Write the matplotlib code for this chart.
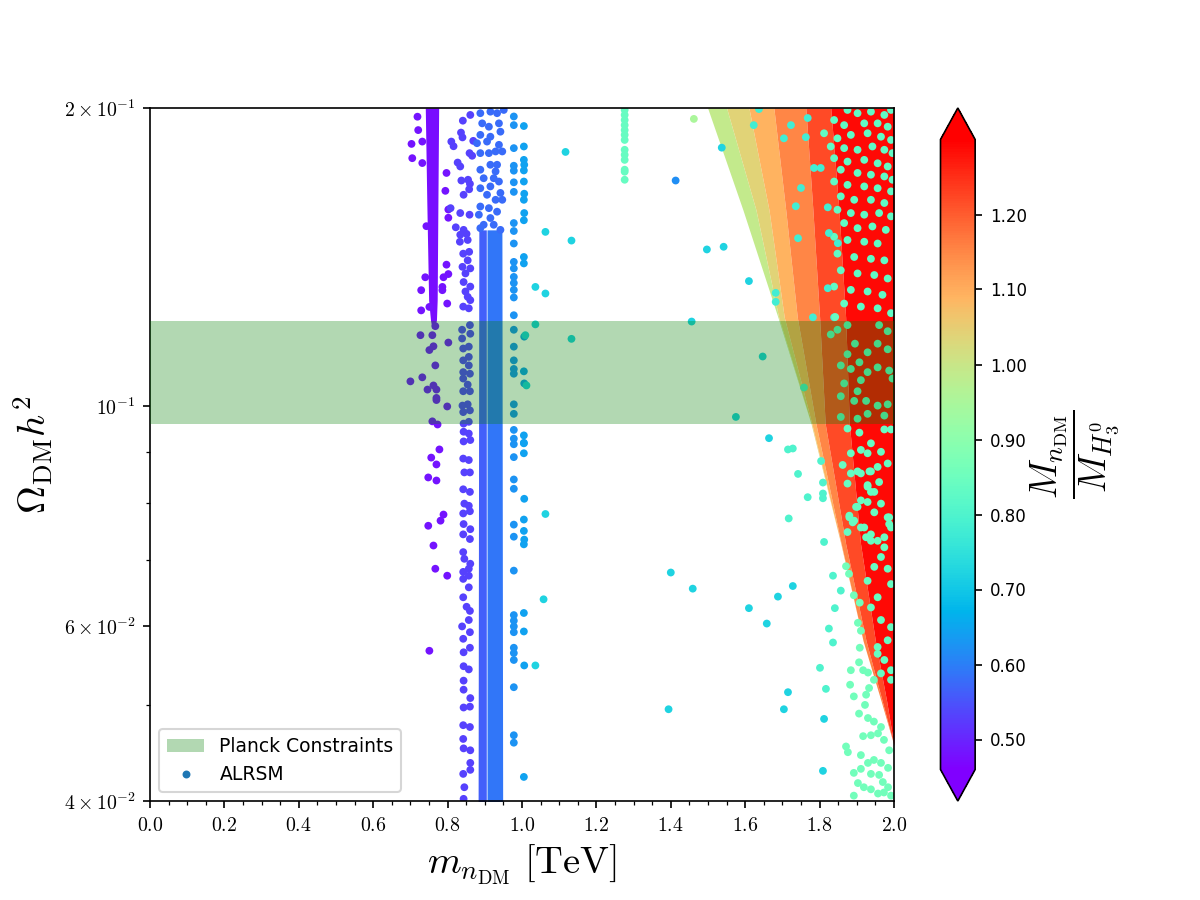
import numpy as np
import matplotlib
matplotlib.use("Agg")
import matplotlib.pyplot as plt
from matplotlib.colors import Normalize
from matplotlib.lines import Line2D
from matplotlib.ticker import FixedLocator, FixedFormatter, MultipleLocator, NullFormatter, FormatStrFormatter

plt.rcParams["mathtext.fontset"] = "cm"

# ---------------------------------------------------------------------------
# data (x = m_nDM in TeV, y = Omega h^2, c = M_nDM / M_H3)
# ---------------------------------------------------------------------------
C_MIN, C_MAX = 0.46, 1.30
PLANCK_LO, PLANCK_HI = 0.0961, 0.1219

# purple stripe around 0.75 TeV
purple_core_y = [0.2, 0.1615, 0.128, 0.1222, 0.1199]
purple_core_xl = [0.740, 0.744, 0.749, 0.754, 0.758]
purple_core_xr = [0.776, 0.774, 0.772, 0.770, 0.764]
purple_core_c = 0.475

purple_x = [0.719, 0.721, 0.703, 0.705, 0.732, 0.732, 0.797, 0.794, 0.802, 0.802,
            0.743, 0.797, 0.789, 0.802, 0.740, 0.786, 0.786, 0.729, 0.799, 0.729,
            0.751, 0.767, 0.759, 0.727, 0.802, 0.762, 0.751, 0.767, 0.700, 0.732,
            0.746, 0.762, 0.770, 0.770, 0.770, 0.799, 0.759, 0.773, 0.778, 0.756,
            0.770, 0.748, 0.770, 0.789, 0.781, 0.748, 0.762, 0.767, 0.799, 0.751]
purple_y = [0.196, 0.190, 0.184, 0.178, 0.185, 0.176, 0.172, 0.165, 0.158, 0.155,
            0.152, 0.139, 0.135, 0.136, 0.135, 0.132, 0.131, 0.131, 0.127, 0.125,
            0.126, 0.1205, 0.118, 0.118, 0.116, 0.115, 0.114, 0.110, 0.106, 0.107,
            0.104, 0.105, 0.104, 0.102, 0.1015, 0.100, 0.0966, 0.0959, 0.0905, 0.0888,
            0.0874, 0.0848, 0.0842, 0.0778, 0.0767, 0.0758, 0.0724, 0.0686, 0.0675, 0.0567]
purple_c = 0.48

# second (violet-blue) column around 0.84-0.86 TeV
col2_x = [0.841, 0.861, 0.836, 0.840, 0.810, 0.816, 0.869, 0.859, 0.866, 0.827,
          0.834, 0.837, 0.855, 0.860, 0.843, 0.858, 0.808, 0.834, 0.859, 0.822,
          0.843, 0.834, 0.851, 0.833, 0.854, 0.842, 0.858, 0.854, 0.840, 0.861,
          0.848, 0.843, 0.861, 0.848, 0.854, 0.842, 0.861, 0.857, 0.839, 0.860,
          0.839, 0.861, 0.842, 0.857, 0.857, 0.842, 0.857, 0.842, 0.860, 0.842,
          0.854, 0.842, 0.860, 0.840, 0.854, 0.842, 0.860, 0.843, 0.857, 0.843,
          0.857, 0.843, 0.861, 0.842, 0.857, 0.845, 0.860, 0.842, 0.860, 0.845,
          0.857, 0.842, 0.860, 0.843, 0.861, 0.842, 0.860, 0.842, 0.845, 0.861,
          0.857, 0.842, 0.857, 0.842, 0.857, 0.842, 0.851, 0.860, 0.857, 0.839,
          0.860, 0.842, 0.860, 0.843, 0.857, 0.843, 0.843, 0.843, 0.861, 0.843,
          0.860, 0.842, 0.860, 0.842, 0.843, 0.861, 0.861, 0.842, 0.861, 0.845,
          0.843]
col2_y = [0.1942, 0.1968, 0.1889, 0.1868, 0.1850, 0.1830, 0.1853, 0.1801, 0.1790, 0.1762,
          0.1746, 0.1690, 0.1693, 0.1677, 0.1635, 0.1656, 0.1585, 0.1567, 0.1561, 0.1516,
          0.1507, 0.1490, 0.1493, 0.1466, 0.1472, 0.1426, 0.1432, 0.1404, 0.1383, 0.1378,
          0.1362, 0.1335, 0.1321, 0.1306, 0.1290, 0.1261, 0.1280, 0.1256, 0.1195, 0.1208,
          0.1171, 0.1184, 0.1144, 0.1149, 0.1122, 0.1113, 0.1100, 0.1083, 0.1079, 0.1067,
          0.1052, 0.1036, 0.1036, 0.1002, 0.1005, 0.0987, 0.0991, 0.0961, 0.0965, 0.0943,
          0.0939, 0.0922, 0.0925, 0.0886, 0.0883, 0.0858, 0.0858, 0.0825, 0.0820, 0.0798,
          0.0794, 0.0780, 0.0784, 0.0761, 0.0752, 0.0743, 0.0735, 0.0713, 0.0702, 0.0694,
          0.0686, 0.0681, 0.0675, 0.0670, 0.0657, 0.0642, 0.0628, 0.0622, 0.0609, 0.0600,
          0.0592, 0.0583, 0.0571, 0.0565, 0.0543, 0.0547, 0.0529, 0.0518, 0.0508, 0.0497,
          0.0498, 0.0477, 0.0475, 0.0462, 0.0452, 0.0450, 0.0437, 0.0426, 0.0430, 0.0413,
          0.0402]
col2_c = 0.53

# dense blue column 0.88-0.95 TeV (left and right halves)
blue_core_y = [0.1507, 0.0395]
blue_core_left_xl = [0.884, 0.882]
blue_core_left_xr = [0.904, 0.904]
blue_core_right_xl = [0.906, 0.906]
blue_core_right_xr = [0.946, 0.948]
blue_core_left_c = 0.565
blue_core_right_c = 0.59

blue_top_x = [0.888, 0.915, 0.933, 0.951, 0.893, 0.911, 0.938, 0.942, 0.888, 0.915,
              0.906, 0.938, 0.879, 0.888, 0.911, 0.929, 0.947, 0.915, 0.933, 0.888,
              0.929, 0.897, 0.924, 0.938, 0.888, 0.915, 0.942, 0.906, 0.929, 0.947,
              0.888, 0.911, 0.933, 0.884, 0.915, 0.897, 0.924, 0.888, 0.942]
blue_top_y = [0.1976, 0.1983, 0.1976, 0.1991, 0.1930, 0.1915, 0.1930, 0.1893, 0.1879, 0.1871,
              0.1850, 0.1836, 0.1843, 0.1801, 0.1801, 0.1808, 0.1808, 0.1753, 0.1753, 0.1733,
              0.1726, 0.1699, 0.1699, 0.1686, 0.1660, 0.1667, 0.1642, 0.1635, 0.1616, 0.1616,
              0.1591, 0.1585, 0.1572, 0.1561, 0.1549, 0.1525, 0.1525, 0.1513, 0.1507]
blue_top_c = 0.575

# sparse columns near 0.98 and 1.0 TeV
col98_x = [0.978] * 43
col98_y = [0.1961, 0.1922, 0.1822, 0.1749, 0.1729, 0.1683, 0.1646, 0.1531, 0.1503, 0.1460,
           0.1399, 0.1378, 0.1351, 0.1332, 0.1311, 0.1288, 0.1236, 0.1195, 0.1149, 0.1113,
           0.1091, 0.1079, 0.1005, 0.0983, 0.0947, 0.0928, 0.0916, 0.0889, 0.0844, 0.0826,
           0.0760, 0.0739, 0.0683, 0.0616, 0.0608, 0.0600, 0.0592, 0.0571, 0.0564, 0.0555,
           0.0521, 0.0466, 0.0458]
col98_c = 0.625

col100_x = [1.005, 1.005, 1.005, 1.006, 1.005, 1.005, 1.006, 1.005, 1.006, 1.005,
            1.005, 1.005, 1.006, 1.005, 1.006, 1.005, 1.005, 1.005, 1.005, 1.006,
            1.005, 1.005, 1.006, 1.005, 1.005, 1.005, 1.006, 1.005]
col100_y = [0.1918, 0.1829, 0.1773, 0.1753, 0.1730, 0.1686, 0.1639, 0.1616, 0.1567, 0.1541,
            0.1415, 0.1394, 0.1176, 0.1085, 0.1055, 0.0935, 0.0919, 0.0918, 0.0897, 0.0807,
            0.0769, 0.0749, 0.0734, 0.0726, 0.0619, 0.0593, 0.0548, 0.0423]
col100_c = 0.645

# isolated cyan points
cyan_x = [1.117, 1.063, 1.133, 1.036, 1.063, 1.036, 1.009, 1.133, 1.012, 1.063,
          1.058, 1.036, 1.400, 1.394, 1.459, 1.537, 1.497, 1.542, 1.610, 1.456,
          1.575, 1.647, 1.664, 1.610, 1.658, 1.688, 1.728, 1.715, 1.704, 1.812,
          1.809]
cyan_y = [0.1806, 0.150, 0.147, 0.132, 0.130, 0.121, 0.118, 0.117, 0.105, 0.0779,
          0.0639, 0.0548, 0.068, 0.0495, 0.0655, 0.1824, 0.1440, 0.1449, 0.1338, 0.1218,
          0.0976, 0.1123, 0.0929, 0.0626, 0.0604, 0.0643, 0.0659, 0.0515, 0.0495, 0.0484,
          0.0429]
cyan_c = 0.72

lone_blue_x = [1.413]
lone_blue_y = [0.169]
lone_blue_c = 0.62

lone_green_x = [1.462]
lone_green_y = [0.195]
lone_green_c = 0.95

# teal column at 1.28 TeV
col128_x = [1.276] * 13
col128_y = [0.1991, 0.1968, 0.1945, 0.1922, 0.1900, 0.1879, 0.1857, 0.1815, 0.1794, 0.1773,
            0.1733, 0.1725, 0.1693]
col128_c = 0.84

# the sloping fan at high mass: boundaries of colour stripes
fan_y = [0.2, 0.1578, 0.1230, 0.0961, 0.0727, 0.0580, 0.0505, 0.0455]
fan_edges = [
    [1.499, 1.594, 1.688, 1.777, 1.857, 1.917, 1.965, 2.0],
    [1.550, 1.629, 1.690, 1.777, 1.857, 1.917, 1.965, 2.0],
    [1.610, 1.664, 1.705, 1.779, 1.857, 1.917, 1.965, 2.0],
    [1.677, 1.709, 1.740, 1.790, 1.858, 1.917, 1.965, 2.0],
    [1.763, 1.782, 1.800, 1.815, 1.870, 1.925, 1.968, 2.0],
    [1.830, 1.852, 1.870, 1.880, 1.910, 1.950, 1.980, 2.0],
    [2.0, 2.0, 2.0, 2.0, 2.0, 2.0, 2.0, 2.0],
]
fan_c = [0.99, 1.04, 1.09, 1.15, 1.22, 1.29]

# teal points spread over the upper right corner
teal_top_x = [1.875, 1.902, 1.938, 1.974, 1.992, 1.839, 1.866, 1.920, 1.956, 1.983,
              1.812, 1.848, 1.884, 1.929, 1.965, 1.992, 1.830, 1.866, 1.902, 1.942,
              1.974, 1.996, 1.839, 1.875, 1.920, 1.956, 1.983, 1.857, 1.902, 1.938,
              1.974, 1.996, 1.839, 1.875, 1.920, 1.956, 1.992, 1.857, 1.893, 1.938,
              1.974, 1.848, 1.884, 1.920, 1.960, 1.992, 1.866, 1.902, 1.942, 1.978,
              1.839, 1.875, 1.920, 1.956, 1.848, 1.893, 1.938, 1.974, 1.857, 1.902,
              1.947, 1.983, 1.839, 1.884, 1.929, 1.969, 1.866, 1.911, 1.956, 1.992]
teal_top_y = [0.1991, 0.1976, 0.1983, 0.1968, 0.1991, 0.1945, 0.1922, 0.1930, 0.1930, 0.1915,
              0.1886, 0.1864, 0.1879, 0.1886, 0.1871, 0.1857, 0.1829, 0.1822, 0.1815, 0.1829,
              0.1815, 0.1801, 0.1780, 0.1766, 0.1773, 0.1759, 0.1746, 0.1733, 0.1720, 0.1713,
              0.1706, 0.1693, 0.1686, 0.1673, 0.1667, 0.1660, 0.1648, 0.1629, 0.1616, 0.1616,
              0.1604, 0.1579, 0.1567, 0.1561, 0.1567, 0.1555, 0.1531, 0.1513, 0.1519, 0.1507,
              0.1483, 0.1472, 0.1466, 0.1460, 0.1426, 0.1415, 0.1409, 0.1404, 0.1372, 0.1362,
              0.1357, 0.1346, 0.1321, 0.1311, 0.1306, 0.1296, 0.1270, 0.1261, 0.1256, 0.1242]
teal_top_c = 0.83

teal_band_x = [1.623, 1.704, 1.723, 1.785, 1.822, 1.750, 1.736, 1.742, 1.682, 1.682,
               1.822, 1.782, 1.839, 1.637, 1.768, 1.763, 1.803, 1.825, 1.849]
teal_band_y = [0.1922, 0.1864, 0.1922, 0.1740, 0.1588, 0.1661, 0.1592, 0.1478, 0.1302, 0.1275,
               0.1316, 0.1230, 0.1230, 0.1995, 0.1954, 0.1869, 0.1740, 0.1496, 0.1461]
teal_band_c = 0.78

# teal points inside the red region
teal_mid_x = [1.842, 1.875, 1.848, 1.830, 1.895, 1.960, 1.983, 1.956, 1.983, 1.929,
              1.875, 1.907, 1.857, 1.884, 1.929, 1.956, 1.987, 1.996, 1.911, 1.866,
              1.902, 1.857, 1.893, 1.925, 1.956, 1.983, 1.929, 1.902, 1.857, 1.974,
              1.875, 1.974, 1.992, 1.907, 1.938, 1.911, 1.884, 1.929, 1.965, 1.983,
              1.862, 1.902, 1.934, 1.956, 1.875, 1.929, 1.938, 1.965, 1.902, 1.929,
              1.880, 1.947, 1.987, 1.987, 1.893, 1.911, 1.875, 1.925, 1.974, 1.938,
              1.880, 1.889, 1.911, 1.929, 1.947, 1.960, 1.938, 1.911, 1.884, 1.898,
              1.920, 1.938, 1.956, 1.974, 1.992, 1.983, 1.965, 1.947, 1.983, 1.929,
              1.956, 1.992, 1.938, 1.965, 1.992, 1.983, 1.956, 1.974, 1.992, 1.965,
              1.992, 1.956]
teal_mid_y = [0.1231, 0.1208, 0.1195, 0.1182, 0.1157, 0.1208, 0.1191, 0.1157, 0.1142, 0.1134,
              0.1129, 0.1108, 0.1100, 0.1091, 0.1083, 0.1095, 0.1087, 0.1067, 0.1063, 0.1055,
              0.1036, 0.1024, 0.1013, 0.1013, 0.1002, 0.1005, 0.0983, 0.0972, 0.0976, 0.0979,
              0.0950, 0.0948, 0.0948, 0.0941, 0.0918, 0.0904, 0.0897, 0.0897, 0.0900, 0.0876,
              0.0873, 0.0860, 0.0860, 0.0869, 0.0836, 0.0833, 0.0820, 0.0798, 0.0792, 0.0801,
              0.0773, 0.0782, 0.0773, 0.0761, 0.0767, 0.0755, 0.0747, 0.0738, 0.0738, 0.0732,
              0.0776, 0.0764, 0.0804, 0.0830, 0.0820, 0.0839, 0.0860, 0.0856, 0.0856, 0.0792,
              0.0755, 0.0743, 0.0732, 0.0721, 0.0755, 0.0773, 0.0705, 0.0689, 0.0686, 0.0667,
              0.0642, 0.0662, 0.0627, 0.0609, 0.0599, 0.0581, 0.0572, 0.0555, 0.0542, 0.0538,
              0.0530, 0.0563]
teal_mid_c = 0.84

# teal points just left of the fan edge
teal_edge_x = [1.715, 1.728, 1.742, 1.768, 1.717, 1.809, 1.812, 1.836, 1.857, 1.841,
               1.825, 1.836, 1.801, 1.817, 1.758, 1.809, 1.804, 1.809]
teal_edge_y = [0.0905, 0.0907, 0.0855, 0.0810, 0.0771, 0.0808, 0.0730, 0.0675, 0.0652, 0.0626,
               0.0597, 0.0578, 0.0545, 0.0519, 0.1045, 0.0817, 0.0881, 0.0838]
teal_edge_c = 0.80

# teal cloud below the fan tip
teal_low_x = [1.871, 1.879, 1.892, 1.908, 1.903, 1.911, 1.908, 1.906, 1.917, 1.930,
              1.884, 1.882, 1.892, 1.925, 1.933, 1.946, 1.922, 1.906, 1.930, 1.946,
              1.965, 1.917, 1.938, 1.957, 1.973, 1.987, 1.871, 1.876, 1.911, 1.930,
              1.946, 1.965, 1.892, 1.911, 1.938, 1.960, 1.984, 1.903, 1.919, 1.938,
              1.970, 1.984, 1.892, 1.973, 1.992, 1.957]
teal_low_y = [0.0690, 0.0678, 0.0645, 0.0634, 0.0605, 0.0594, 0.0571, 0.0552, 0.0542, 0.0539,
              0.0542, 0.0524, 0.0510, 0.0512, 0.0520, 0.0530, 0.0500, 0.0490, 0.0485, 0.0481,
              0.0475, 0.0465, 0.0466, 0.0468, 0.0461, 0.0450, 0.0454, 0.0448, 0.0445, 0.0437,
              0.0440, 0.0437, 0.0427, 0.0431, 0.0426, 0.0425, 0.0432, 0.0417, 0.0413, 0.0411,
              0.0418, 0.0413, 0.0405, 0.0408, 0.0405, 0.0407]
teal_low_c = 0.86

point_groups = [
    (purple_x, purple_y, purple_c),
    (col2_x, col2_y, col2_c),
    (blue_top_x, blue_top_y, blue_top_c),
    (col98_x, col98_y, col98_c),
    (col100_x, col100_y, col100_c),
    (cyan_x, cyan_y, cyan_c),
    (lone_blue_x, lone_blue_y, lone_blue_c),
    (lone_green_x, lone_green_y, lone_green_c),
    (col128_x, col128_y, col128_c),
    (teal_top_x, teal_top_y, teal_top_c),
    (teal_band_x, teal_band_y, teal_band_c),
    (teal_mid_x, teal_mid_y, teal_mid_c),
    (teal_edge_x, teal_edge_y, teal_edge_c),
    (teal_low_x, teal_low_y, teal_low_c),
]

# ---------------------------------------------------------------------------
# plot
# ---------------------------------------------------------------------------
cmap = plt.get_cmap("rainbow")
norm = Normalize(vmin=C_MIN, vmax=C_MAX)

fig, ax = plt.subplots(figsize=(8, 6), dpi=150)

# dense parts of the scan drawn as filled regions
ax.fill_betweenx(purple_core_y, purple_core_xl, purple_core_xr,
                 color=cmap(norm(purple_core_c)), lw=0, zorder=1)
ax.fill_betweenx(blue_core_y, blue_core_left_xl, blue_core_left_xr,
                 color=cmap(norm(blue_core_left_c)), lw=0, zorder=1)
ax.fill_betweenx(blue_core_y, blue_core_right_xl, blue_core_right_xr,
                 color=cmap(norm(blue_core_right_c)), lw=0, zorder=1)
for left, right, c in zip(fan_edges[:-1], fan_edges[1:], fan_c):
    ax.fill_betweenx(fan_y, left, right, color=cmap(norm(c)), lw=0, zorder=1)

xs = np.concatenate([np.asarray(g[0], float) for g in point_groups])
ys = np.concatenate([np.asarray(g[1], float) for g in point_groups])
cs = np.concatenate([np.full(len(g[0]), g[2]) for g in point_groups])

sc = ax.scatter(xs, ys, c=cs, cmap=cmap, norm=norm, s=14, linewidths=0, zorder=2)

ax.axhspan(PLANCK_LO, PLANCK_HI, color="green", alpha=0.3, lw=0, zorder=3)

ax.set_yscale("log")
ax.set_xlim(0, 2.0)
ax.set_ylim(0.04, 0.2)

ax.xaxis.set_major_locator(MultipleLocator(0.2))
ax.xaxis.set_minor_locator(MultipleLocator(0.05))
ax.xaxis.set_major_formatter(plt.FuncFormatter(lambda v, p: r"$%.1f$" % v))

ax.yaxis.set_major_locator(FixedLocator([0.04, 0.06, 0.1, 0.2]))
ax.yaxis.set_major_formatter(FixedFormatter([r"$4\times10^{-2}$", r"$6\times10^{-2}$",
                                             r"$10^{-1}$", r"$2\times10^{-1}$"]))
ax.yaxis.set_minor_locator(FixedLocator([0.05, 0.07, 0.08, 0.09]))
ax.yaxis.set_minor_formatter(NullFormatter())
ax.tick_params(labelsize=9.5)

ax.set_xlabel(r"$m_{n_{\rm DM}}\ [{\rm TeV}]$", fontsize=18.5)
ax.set_ylabel(r"$\Omega_{\rm DM} h^2$", fontsize=18.5)

handles = [
    plt.Rectangle((0, 0), 1, 1, color="green", alpha=0.3, lw=0),
    Line2D([], [], marker="o", ls="", color="#1f77b4", ms=2.8),
]
ax.legend(handles, ["Planck Constraints", "ALRSM"], loc="lower left", fontsize=9)

cb = fig.colorbar(sc, ax=ax, extend="both")
cb.set_ticks([0.5, 0.6, 0.7, 0.8, 0.9, 1.0, 1.1, 1.2])
cb.ax.yaxis.set_major_formatter(FormatStrFormatter("%.2f"))
cb.ax.tick_params(labelsize=8)
cb.set_label(r"$\dfrac{M_{n_{\rm DM}}}{M_{H_3^0}}$", fontsize=18, labelpad=1)

fig.savefig("out.png", dpi=150)
